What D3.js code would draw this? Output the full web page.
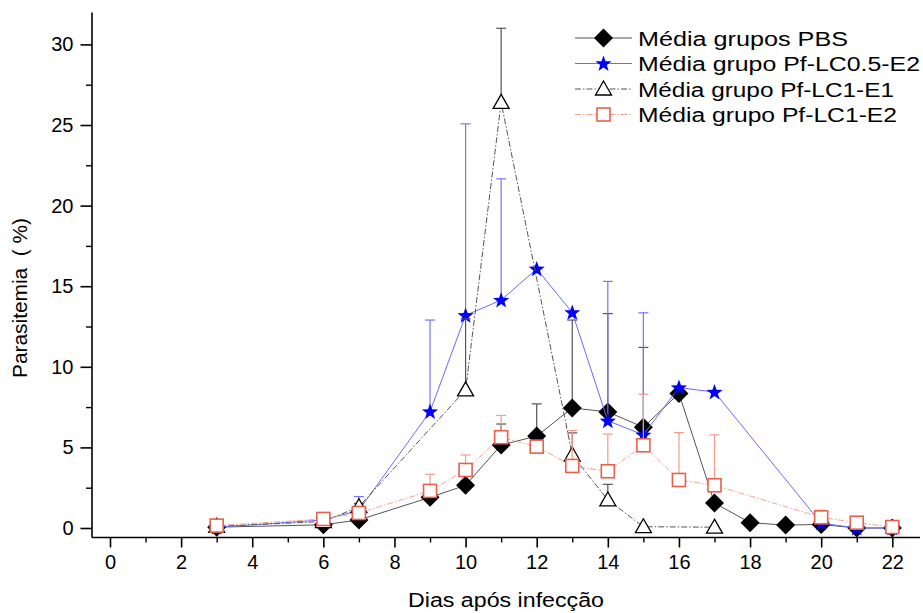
<!DOCTYPE html>
<html>
<head>
<meta charset="utf-8">
<script src="https://cdn.jsdelivr.net/npm/d3@7"></script>
<style>
  html, body { margin: 0; padding: 0; background: #fff; }
  svg { display: block; font-family: "Liberation Sans", Arial, sans-serif; }
</style>
</head>
<body>
<svg id="chart" width="923" height="613"></svg>
<script>
// ---------- data ----------
const xTicks = [0, 2, 4, 6, 8, 10, 12, 14, 16, 18, 20, 22];
const xMinorTicks = [1, 3, 5, 7, 9, 11, 13, 15, 17, 19, 21];
const yTicks = [0, 5, 10, 15, 20, 25, 30];
const yMinorTicks = [2.5, 7.5, 12.5, 17.5, 22.5, 27.5];

const pbsDays = [3, 6, 7, 9, 10, 11, 12, 13, 14, 15, 16, 17, 18, 19, 20, 21, 22];
const pbsMean = [0.05, 0.2, 0.5, 1.9, 2.65, 5.15, 5.7, 7.45, 7.2, 6.25, 8.35, 1.55, 0.33, 0.18, 0.22, 0.0, 0.0];
const pbsErr  = [0, 0, 0, 0, 0, 1.3, 2.0, 5.45, 6.1, 4.95, 0, 0, 0, 0, 0, 0, 0];

const lc05Days = [3, 6, 7, 9, 10, 11, 12, 13, 14, 15, 16, 17, 20, 21, 22];
const lc05Mean = [0.05, 0.5, 1.1, 7.22, 13.19, 14.14, 16.07, 13.37, 6.65, 5.78, 8.71, 8.43, 0.3, 0.0, 0.0];
const lc05Err  = [0, 0, 0.85, 5.68, 11.88, 7.52, 0, 0, 8.65, 7.57, 0, 0, 0, 0, 0];

const lc1e1Days = [3, 6, 7, 10, 11, 13, 14, 15, 17];
const lc1e1Mean = [0.1, 0.4, 1.32, 8.57, 26.4, 4.53, 1.74, 0.08, 0.05];
const lc1e1Err  = [0, 0, 0.2, 4.4, 4.6, 1.37, 0.97, 0, 0];

const lc1e2Days = [3, 6, 7, 9, 10, 11, 12, 13, 14, 15, 16, 17, 20, 21, 22];
const lc1e2Mean = [0.15, 0.56, 0.93, 2.3, 3.6, 5.63, 5.05, 3.85, 3.52, 5.13, 2.98, 2.65, 0.66, 0.33, 0.06];
const lc1e2Err  = [0.25, 0.2, 0, 1.03, 0.93, 1.35, 0, 2.2, 2.3, 3.17, 2.94, 3.13, 0.44, 0.37, 0.34];

const seriesNames = ["Média grupos PBS", "Média grupo Pf-LC0.5-E2", "Média grupo Pf-LC1-E1", "Média grupo Pf-LC1-E2"];

// ---------- setup ----------
const svg = d3.select("#chart");
const x = d3.scaleLinear().domain([0, 22]).range([110, 892.3]);
const y = d3.scaleLinear().domain([0, 30]).range([528, 44.4]);

const axisX0 = 92, axisY0 = 537.5;

function starPath(R, r) {
  const pts = [];
  for (let i = 0; i < 10; i++) {
    const a = -Math.PI / 2 + i * Math.PI / 5;
    const rad = i % 2 === 0 ? R : r;
    pts.push([rad * Math.cos(a), rad * Math.sin(a)]);
  }
  return "M" + pts.map(p => p[0].toFixed(2) + "," + p[1].toFixed(2)).join("L") + "Z";
}

const series = [
  { name: seriesNames[0], days: pbsDays, mean: pbsMean, err: pbsErr,
    line: "#555", lw: 1, dash: null, errColor: "#555", marker: "diamond" },
  { name: seriesNames[1], days: lc05Days, mean: lc05Mean, err: lc05Err,
    line: "#6a6aff", lw: 1, dash: null, errColor: "#7575ff", marker: "star" },
  { name: seriesNames[2], days: lc1e1Days, mean: lc1e1Mean, err: lc1e1Err,
    line: "#555", lw: 1, dash: "6,2,1.5,2", errColor: "#555", marker: "triangle" },
  { name: seriesNames[3], days: lc1e2Days, mean: lc1e2Mean, err: lc1e2Err,
    line: "#f4a294", lw: 1, dash: "6,2,1.5,2", errColor: "#f39b8d", marker: "square" }
];

function drawMarker(g, type, cx, cy) {
  if (type === "diamond") {
    g.append("path").attr("d", "M0,-9.5L9.5,0L0,9.5L-9.5,0Z")
      .attr("transform", `translate(${cx},${cy})`).attr("fill", "#000");
  } else if (type === "star") {
    g.append("path").attr("d", starPath(8.5, 3.5))
      .attr("transform", `translate(${cx},${cy + 0.5})`).attr("fill", "#0000ff");
  } else if (type === "triangle") {
    g.append("path").attr("d", "M0,-8L8,6L-8,6Z")
      .attr("transform", `translate(${cx},${cy})`).attr("fill", "#fff")
      .attr("stroke", "#000").attr("stroke-width", 1.3);
  } else if (type === "square") {
    g.append("rect").attr("x", cx - 6.5).attr("y", cy - 6.5).attr("width", 13).attr("height", 13)
      .attr("fill", "#fff").attr("stroke", "#e8604c").attr("stroke-width", 1.6);
  }
}

// ---------- series ----------
const plot = svg.append("g");
series.forEach(s => {
  const g = plot.append("g");
  const pts = s.days.map((d, i) => ({ d, v: s.mean[i], e: s.err[i] }));
  pts.filter(p => p.e > 0).forEach(p => {
    g.append("line").attr("x1", x(p.d)).attr("x2", x(p.d))
      .attr("y1", y(p.v)).attr("y2", y(p.v + p.e))
      .attr("stroke", s.errColor).attr("stroke-width", 1.2);
    g.append("line").attr("x1", x(p.d) - 5).attr("x2", x(p.d) + 5)
      .attr("y1", y(p.v + p.e)).attr("y2", y(p.v + p.e))
      .attr("stroke", s.errColor).attr("stroke-width", 1.2);
  });
  const lineGen = d3.line().x(p => x(p.d)).y(p => y(p.v));
  g.append("path").datum(pts).attr("d", lineGen)
    .attr("fill", "none").attr("stroke", s.line).attr("stroke-width", s.lw)
    .attr("stroke-dasharray", s.dash);
  pts.forEach(p => drawMarker(g, s.marker, x(p.d), y(p.v)));
});

// ---------- axes ----------
const ax = svg.append("g").attr("stroke", "#000");
ax.append("line").attr("x1", axisX0).attr("x2", axisX0).attr("y1", 12.5).attr("y2", axisY0)
  .attr("stroke-width", 1.6);
ax.append("line").attr("x1", axisX0).attr("x2", 920).attr("y1", axisY0).attr("y2", axisY0)
  .attr("stroke-width", 1.6);

const xAxis = d3.axisBottom(x).tickValues(xTicks).tickSize(10).tickPadding(7).tickFormat(d3.format("d"));
const gx = svg.append("g").attr("transform", `translate(0,${axisY0})`).call(xAxis);
gx.select(".domain").remove();
gx.selectAll(".tick line").attr("stroke", "#000").attr("stroke-width", 1.6);
gx.selectAll(".tick text").attr("font-size", 20).attr("fill", "#000")
  .attr("font-family", "'Liberation Sans', Arial, sans-serif");

const xMinor = d3.axisBottom(x).tickValues(xMinorTicks).tickSize(5).tickFormat("");
const gxm = svg.append("g").attr("transform", `translate(0,${axisY0})`).call(xMinor);
gxm.select(".domain").remove();
gxm.selectAll(".tick line").attr("stroke", "#000").attr("stroke-width", 1.4);

const yAxis = d3.axisLeft(y).tickValues(yTicks).tickSize(11.5).tickPadding(7).tickFormat(d3.format("d"));
const gy = svg.append("g").attr("transform", `translate(${axisX0},0)`).call(yAxis);
gy.select(".domain").remove();
gy.selectAll(".tick line").attr("stroke", "#000").attr("stroke-width", 1.6);
gy.selectAll(".tick text").attr("font-size", 20).attr("fill", "#000")
  .attr("font-family", "'Liberation Sans', Arial, sans-serif");

const yMinor = d3.axisLeft(y).tickValues(yMinorTicks).tickSize(6).tickFormat("");
const gym = svg.append("g").attr("transform", `translate(${axisX0},0)`).call(yMinor);
gym.select(".domain").remove();
gym.selectAll(".tick line").attr("stroke", "#000").attr("stroke-width", 1.4);

// ---------- titles ----------
svg.append("text").attr("x", 506).attr("y", 607).attr("text-anchor", "middle")
  .attr("font-size", 20).attr("textLength", 196).attr("lengthAdjust", "spacingAndGlyphs")
  .text("Dias após infecção");

svg.append("text").attr("transform", "translate(27,298) rotate(-90)").attr("text-anchor", "middle")
  .attr("font-size", 20).attr("textLength", 160).attr("lengthAdjust", "spacingAndGlyphs")
  .style("white-space", "pre")
  .text("Parasitemia  ( %)");

// ---------- legend ----------
const legendY = [38, 63.5, 89, 114.5];
const legendW = [210, 282, 256, 259];
const leg = svg.append("g");
series.forEach((s, i) => {
  const ly = legendY[i];
  leg.append("line").attr("x1", 575).attr("x2", 632).attr("y1", ly).attr("y2", ly)
    .attr("stroke", s.line).attr("stroke-width", 1).attr("stroke-dasharray", s.dash);
  drawMarker(leg, s.marker, 603.5, ly);
  leg.append("text").attr("x", 638).attr("y", ly + 7.5).attr("font-size", 20)
    .attr("textLength", legendW[i]).attr("lengthAdjust", "spacingAndGlyphs")
    .text(s.name);
});
</script>
</body>
</html>
